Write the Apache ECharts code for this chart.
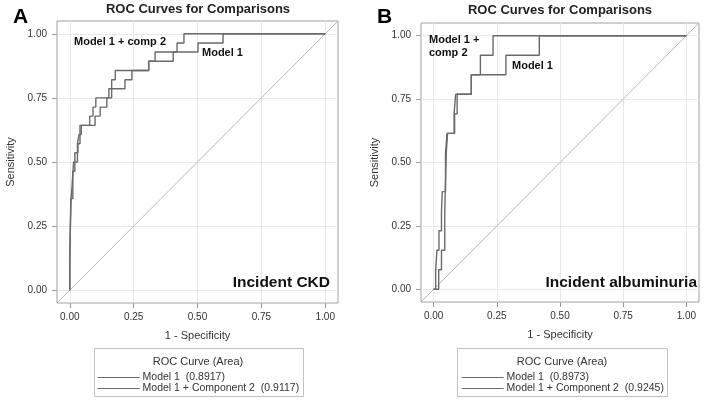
<!DOCTYPE html>
<html>
<head>
<meta charset="utf-8">
<script src="https://cdn.jsdelivr.net/npm/echarts@6/dist/echarts.min.js"></script>
<style>html,body{margin:0;padding:0;background:#fff}#c{width:705px;height:400px}</style>
</head>
<body>
<div id="c"></div>
<script>
// ---- data ----
const TICKS = [0, 0.25, 0.5, 0.75, 1];
const TICK_LABELS = ['0.00', '0.25', '0.50', '0.75', '1.00'];
const AXIS_MIN = -0.05, AXIS_MAX = 1.05;
const REF_LINE = [[-0.05, -0.05], [1.05, 1.05]];

const ckdNames = ['Model 1  (0.8917)', 'Model 1 + Component 2  (0.9117)'];
const ckdModel1 = [[0,0],[0,0.107],[0.004,0.107],[0.004,0.357],[0.012,0.357],[0.012,0.464],[0.020,0.464],[0.020,0.536],[0.032,0.536],[0.032,0.571],[0.040,0.571],[0.040,0.643],[0.099,0.643],[0.099,0.679],[0.119,0.679],[0.119,0.714],[0.145,0.714],[0.145,0.750],[0.153,0.750],[0.153,0.786],[0.216,0.786],[0.216,0.821],[0.243,0.821],[0.243,0.857],[0.309,0.857],[0.309,0.893],[0.405,0.893],[0.405,0.929],[0.502,0.929],[0.502,0.964],[0.600,0.964],[0.600,1],[1,1]];
const ckdComp2 = [[0,0],[0,0.143],[0.005,0.143],[0.005,0.357],[0.008,0.357],[0.008,0.393],[0.015,0.393],[0.015,0.500],[0.030,0.500],[0.030,0.571],[0.036,0.571],[0.036,0.607],[0.045,0.607],[0.045,0.643],[0.078,0.643],[0.078,0.679],[0.091,0.679],[0.091,0.714],[0.102,0.714],[0.102,0.750],[0.164,0.750],[0.164,0.821],[0.178,0.821],[0.178,0.857],[0.309,0.857],[0.309,0.893],[0.334,0.893],[0.334,0.929],[0.420,0.929],[0.420,0.964],[0.447,0.964],[0.447,1],[1,1]];

const albNames = ['Model 1  (0.8973)', 'Model 1 + Component 2  (0.9245)'];
const albModel1 = [[0,0],[0.020,0],[0.020,0.077],[0.031,0.077],[0.031,0.154],[0.044,0.154],[0.044,0.308],[0.050,0.308],[0.050,0.538],[0.055,0.538],[0.055,0.615],[0.083,0.615],[0.083,0.692],[0.093,0.692],[0.093,0.769],[0.149,0.769],[0.149,0.846],[0.286,0.846],[0.286,0.923],[0.418,0.923],[0.418,1],[1,1]];
const albComp2 = [[0,0],[0.008,0],[0.008,0.077],[0.013,0.077],[0.013,0.154],[0.021,0.154],[0.021,0.231],[0.031,0.231],[0.031,0.308],[0.034,0.308],[0.034,0.385],[0.047,0.385],[0.047,0.538],[0.053,0.538],[0.053,0.615],[0.081,0.615],[0.081,0.692],[0.087,0.692],[0.087,0.769],[0.149,0.769],[0.149,0.846],[0.185,0.846],[0.185,0.923],[0.235,0.923],[0.235,1],[1,1]];

// ---- chart ----
const FONT = '"Liberation Sans", Arial, sans-serif';
const GRIDS = [
  {left: 57, top: 21, width: 281, height: 282},
  {left: 421, top: 23, width: 278, height: 279}
];
function xAxis(i) {
  return {
    type: 'value', gridIndex: i, min: AXIS_MIN, max: AXIS_MAX,
    name: '1 - Specificity', nameLocation: 'middle', nameGap: 27,
    nameTextStyle: {fontFamily: FONT, fontSize: 11, color: '#333'},
    axisLine: {show: false, onZero: false},
    axisTick: {show: true, length: 5, customValues: TICKS, lineStyle: {color: '#999'}},
    axisLabel: {customValues: TICKS, margin: 9, fontFamily: FONT, fontSize: 10, color: '#333',
      formatter: v => TICK_LABELS[TICKS.indexOf(v)] ?? ''},
    splitLine: {show: false}
  };
}
function yAxis(i) {
  return {
    type: 'value', gridIndex: i, min: AXIS_MIN, max: AXIS_MAX,
    name: 'Sensitivity', nameLocation: 'middle', nameGap: 41, nameRotate: 90,
    nameTextStyle: {fontFamily: FONT, fontSize: 11, color: '#333'},
    axisLine: {show: false, onZero: false},
    axisTick: {show: true, length: 5, customValues: TICKS, lineStyle: {color: '#999'}},
    axisLabel: {customValues: TICKS, margin: 10, fontFamily: FONT, fontSize: 10, color: '#333',
      formatter: v => TICK_LABELS[TICKS.indexOf(v)] ?? ''},
    splitLine: {show: false}
  };
}
function helper(i) {
  return {
    type: 'line', xAxisIndex: i, yAxisIndex: i, data: REF_LINE, silent: true,
    symbol: 'none', lineStyle: {color: '#b8b8b8', width: 1}, z: 2,
    markLine: {
      silent: true, symbol: ['none', 'none'], label: {show: false},
      lineStyle: {color: '#e8e8e8', width: 1, type: 'solid'}, z: 1,
      data: TICKS.map(v => ({xAxis: v})).concat(TICKS.map(v => ({yAxis: v})))
    }
  };
}
function curve(i, name, data) {
  return {
    type: 'line', name, xAxisIndex: i, yAxisIndex: i, data, symbol: 'none',
    lineStyle: {color: '#6a6a6a', width: 1.4}, itemStyle: {color: '#6a6a6a'}, z: 3
  };
}
function legend(i, names, left) {
  return {
    data: names, orient: 'vertical', left, top: 372, itemWidth: 42, itemHeight: 12, itemGap: 0,
    padding: 0, selectedMode: false,
    itemStyle: {opacity: 0, borderWidth: 0},
    lineStyle: {color: '#6a6a6a', width: 1.2, opacity: 1},
    textStyle: {fontFamily: FONT, fontSize: 10.5, color: '#333', padding: [0, 0, 0, -2]}
  };
}
function txt(x, y, text, size, weight, align, color) {
  return {type: 'text', x, y, silent: true, z: 10,
    style: {text, fontFamily: FONT, fontSize: size, fontWeight: weight || 'normal', fill: color || '#000',
      align: align || 'left', verticalAlign: 'middle', textAlign: align || 'left', textVerticalAlign: 'middle'}};
}
const chart = echarts.init(document.getElementById('c'), null, {renderer: 'canvas'});
chart.setOption({
  animation: false,
  backgroundColor: '#fff',
  grid: GRIDS.map(g => Object.assign({show: true, borderColor: '#a0a0a0', borderWidth: 1, containLabel: false}, g)),
  xAxis: [xAxis(0), xAxis(1)],
  yAxis: [yAxis(0), yAxis(1)],
  legend: [legend(0, ckdNames, 97), legend(1, albNames, 461)],
  series: [
    helper(0), helper(1),
    curve(0, ckdNames[0], ckdModel1), curve(0, ckdNames[1], ckdComp2),
    curve(1, albNames[0], albModel1), curve(1, albNames[1], albComp2)
  ],
  graphic: [
    txt(13, 17, 'A', 21, 'bold'),
    txt(377, 17, 'B', 21, 'bold'),
    txt(198, 9, 'ROC Curves for Comparisons', 13, 'bold', 'center', '#222'),
    txt(560, 10, 'ROC Curves for Comparisons', 13, 'bold', 'center', '#222'),
    txt(74, 42, 'Model 1 + comp 2', 11, 'bold', 'left', '#111'),
    txt(202, 53, 'Model 1', 11, 'bold', 'left', '#111'),
    txt(330, 283, 'Incident CKD', 15.5, 'bold', 'right', '#111'),
    txt(429, 40, 'Model 1 +', 11, 'bold', 'left', '#111'),
    txt(429, 53, 'comp 2', 11, 'bold', 'left', '#111'),
    txt(512, 66, 'Model 1', 11, 'bold', 'left', '#111'),
    txt(697, 283, 'Incident albuminuria', 15.5, 'bold', 'right', '#111'),
    {type: 'rect', shape: {x: 94.5, y: 348.5, width: 209, height: 48}, style: {fill: 'none', stroke: '#c0c0c0', lineWidth: 1}, silent: true},
    {type: 'rect', shape: {x: 457.5, y: 348.5, width: 210, height: 48}, style: {fill: 'none', stroke: '#c0c0c0', lineWidth: 1}, silent: true},
    txt(198, 362, 'ROC Curve (Area)', 11, 'normal', 'center', '#333'),
    txt(562, 362, 'ROC Curve (Area)', 11, 'normal', 'center', '#333')
  ]
});
</script>
</body>
</html>
